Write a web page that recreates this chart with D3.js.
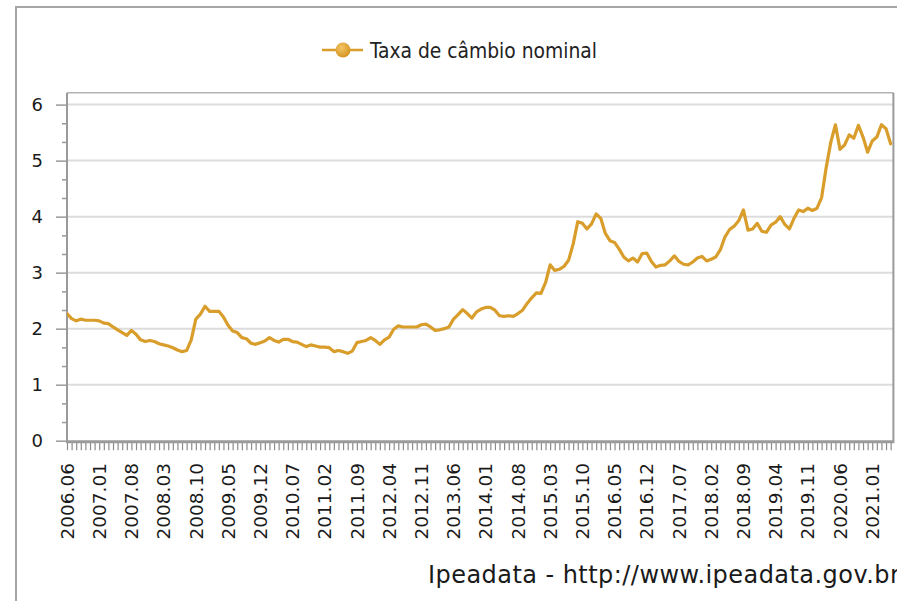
<!DOCTYPE html>
<html>
<head>
<meta charset="utf-8">
<script src="https://cdn.jsdelivr.net/npm/d3@7/dist/d3.min.js"></script>
<style>
  html, body { margin: 0; padding: 0; background: #ffffff; }
  svg { display: block; }
</style>
</head>
<body>
<svg id="chart" width="897" height="601"></svg>
<script>
// Monthly nominal exchange rate (R$/US$), starting June 2006
const startYear = 2006;
const startMonth = 6;
const rates2006 = [2.27, 2.18, 2.14, 2.17, 2.15, 2.15, 2.15];
const rates2007 = [2.14, 2.10, 2.09, 2.03, 1.98, 1.93, 1.88, 1.97, 1.90, 1.80, 1.77, 1.79];
const rates2008 = [1.77, 1.73, 1.71, 1.69, 1.66, 1.62, 1.59, 1.61, 1.80, 2.17, 2.26, 2.40];
const rates2009 = [2.31, 2.31, 2.31, 2.21, 2.06, 1.96, 1.93, 1.84, 1.82, 1.74, 1.72, 1.75];
const rates2010 = [1.78, 1.84, 1.79, 1.76, 1.81, 1.81, 1.77, 1.76, 1.72, 1.68, 1.71, 1.69];
const rates2011 = [1.67, 1.67, 1.66, 1.59, 1.61, 1.59, 1.56, 1.60, 1.75, 1.77, 1.79, 1.84];
const rates2012 = [1.79, 1.72, 1.80, 1.85, 1.99, 2.05, 2.03, 2.03, 2.03, 2.03, 2.07, 2.08];
const rates2013 = [2.03, 1.97, 1.98, 2.00, 2.03, 2.17, 2.25, 2.34, 2.27, 2.19, 2.30, 2.35];
const rates2014 = [2.38, 2.38, 2.33, 2.23, 2.22, 2.23, 2.22, 2.27, 2.33, 2.45, 2.55, 2.64];
const rates2015 = [2.63, 2.82, 3.14, 3.04, 3.06, 3.11, 3.22, 3.51, 3.91, 3.88, 3.78, 3.87];
const rates2016 = [4.05, 3.97, 3.70, 3.57, 3.54, 3.42, 3.28, 3.21, 3.26, 3.19, 3.34, 3.35];
const rates2017 = [3.20, 3.10, 3.13, 3.14, 3.21, 3.30, 3.20, 3.15, 3.14, 3.19, 3.26, 3.29];
const rates2018 = [3.21, 3.24, 3.28, 3.41, 3.64, 3.77, 3.83, 3.93, 4.12, 3.76, 3.78, 3.88];
const rates2019 = [3.74, 3.72, 3.85, 3.90, 4.00, 3.86, 3.78, 3.97, 4.12, 4.09, 4.15, 4.11];
const rates2020 = [4.15, 4.34, 4.88, 5.33, 5.64, 5.20, 5.28, 5.46, 5.40, 5.63, 5.42, 5.15];
const rates2021 = [5.35, 5.42, 5.64, 5.57, 5.30];

const xTickLabels = ["2006.06", "2007.01", "2007.08", "2008.03", "2008.10", "2009.05",
  "2009.12", "2010.07", "2011.02", "2011.09", "2012.04", "2012.11", "2013.06", "2014.01",
  "2014.08", "2015.03", "2015.10", "2016.05", "2016.12", "2017.07", "2018.02", "2018.09",
  "2019.04", "2019.11", "2020.06", "2021.01"];
const yTicks = [0, 1, 2, 3, 4, 5, 6];
const seriesName = "Taxa de câmbio nominal";
const sourceText = "Ipeadata - http://www.ipeadata.gov.br";

const rates = [].concat(rates2006, rates2007, rates2008, rates2009, rates2010, rates2011,
  rates2012, rates2013, rates2014, rates2015, rates2016, rates2017, rates2018, rates2019,
  rates2020, rates2021);

function monthLabel(i) {
  const m0 = startMonth - 1 + i;
  const yr = startYear + Math.floor(m0 / 12);
  const m = (m0 % 12) + 1;
  return yr + "." + (m < 10 ? "0" + m : m);
}
const data = rates.map((v, i) => ({ i, label: monthLabel(i), value: v }));

const lineColor = "#d99d2b";
const axisGrey = "#9a9a9a";
const gridGrey = "#dcdcdc";

const svg = d3.select("#chart");

// plot area
const plotL = 67, plotR = 893.4, plotT = 92.7, plotB = 440.7;
const x = d3.scaleLinear().domain([0, 179.6]).range([plotL, plotR]);
const y = d3.scaleLinear().domain([0, 6]).range([plotB, 104.6]);

// outer frame (top and left edges)
svg.append("path")
  .attr("d", "M16,602 L16,7 L898,7")
  .attr("fill", "none").attr("stroke", "#a6a6a6").attr("stroke-width", 2);

// legend
const defs = svg.append("defs");
const lg = svg.append("g").attr("transform", "translate(0,50)");
lg.append("line").attr("x1", 322).attr("x2", 363).attr("y1", 0).attr("y2", 0)
  .attr("stroke", lineColor).attr("stroke-width", 2.5);
const grad = defs.append("radialGradient").attr("id", "mk")
  .attr("cx", "40%").attr("cy", "35%").attr("r", "65%");
grad.append("stop").attr("offset", "0%").attr("stop-color", "#f3c566");
grad.append("stop").attr("offset", "100%").attr("stop-color", "#d49522");
lg.append("circle").attr("cx", 343).attr("cy", 0).attr("r", 7.5).attr("fill", "url(#mk)");
lg.append("text").attr("x", 370).attr("y", 8)
  .attr("font-family", "'DejaVu Sans Condensed', 'Liberation Sans', sans-serif")
  .attr("font-stretch", "condensed")
  .attr("font-size", 20.8).attr("fill", "#222").text(seriesName);

// horizontal gridlines
svg.append("g").selectAll("line").data(yTicks.filter(d => d > 0)).join("line")
  .attr("x1", plotL).attr("x2", plotR)
  .attr("y1", d => y(d)).attr("y2", d => y(d))
  .attr("stroke", gridGrey).attr("stroke-width", 2);

// plot border: top and right
svg.append("line").attr("x1", plotL).attr("x2", plotR).attr("y1", plotT).attr("y2", plotT)
  .attr("stroke", "#b4b4b4").attr("stroke-width", 1.5);
svg.append("line").attr("x1", plotR).attr("x2", plotR).attr("y1", plotT).attr("y2", plotB)
  .attr("stroke", axisGrey).attr("stroke-width", 2);

// y axis: major and minor ticks
const yMinor = d3.range(0, 18).map(k => k / 3).filter(v => Math.abs(v - Math.round(v)) > 1e-6);
const yMinorAxis = svg.append("g").attr("transform", `translate(${plotL},0)`)
  .call(d3.axisLeft(y).tickValues(yMinor).tickSize(5).tickFormat(""));
yMinorAxis.select(".domain").remove();
yMinorAxis.selectAll("line").attr("stroke", axisGrey).attr("stroke-width", 1.5);

const yAxis = svg.append("g").attr("transform", `translate(${plotL},0)`)
  .call(d3.axisLeft(y).tickValues(yTicks).tickSize(11).tickPadding(13).tickFormat(d3.format("d")));
yAxis.select(".domain").remove();
yAxis.selectAll("line").attr("stroke", axisGrey).attr("stroke-width", 1.5);
yAxis.selectAll("text").attr("font-family", "'DejaVu Sans', sans-serif")
  .attr("font-size", 18).attr("fill", "#1a1a1a");
svg.append("line").attr("x1", plotL).attr("x2", plotL).attr("y1", plotT).attr("y2", plotB + 1)
  .attr("stroke", axisGrey).attr("stroke-width", 2);

// x axis: one tick per month
const xAxis = svg.append("g").attr("transform", `translate(0,${plotB + 1.5})`)
  .call(d3.axisBottom(x).tickValues(d3.range(0, 180)).tickSize(8).tickFormat(""));
xAxis.select(".domain").remove();
xAxis.selectAll("line").attr("stroke", "#8c8c8c").attr("stroke-width", 1.2);
svg.append("line").attr("x1", plotL - 1).attr("x2", plotR + 1)
  .attr("y1", plotB + 1).attr("y2", plotB + 1)
  .attr("stroke", axisGrey).attr("stroke-width", 3);

// rotated month labels
const labelData = data.filter(d => xTickLabels.includes(d.label));
svg.append("g").selectAll("text").data(labelData).join("text")
  .attr("transform", d => `translate(${x(d.i)},463) rotate(-90)`)
  .attr("text-anchor", "end").attr("dy", "0.36em")
  .attr("font-family", "'DejaVu Sans', sans-serif").attr("font-size", 18.5)
  .attr("fill", "#1a1a1a").text(d => d.label);

// series line
defs.append("clipPath").attr("id", "plotClip")
  .append("rect").attr("x", plotL).attr("y", plotT).attr("width", plotR - plotL).attr("height", plotB - plotT);
svg.append("path").datum(data)
  .attr("clip-path", "url(#plotClip)")
  .attr("fill", "none").attr("stroke", lineColor).attr("stroke-width", 3.2)
  .attr("stroke-linejoin", "round").attr("stroke-linecap", "round")
  .attr("d", d3.line().x(d => x(d.i)).y(d => y(d.value)));

// source note
svg.append("text").attr("x", 428).attr("y", 583)
  .attr("font-family", "'DejaVu Sans', sans-serif").attr("font-size", 24)
  .attr("letter-spacing", 0.45)
  .attr("fill", "#1a1a1a").text(sourceText);
</script>
</body>
</html>
